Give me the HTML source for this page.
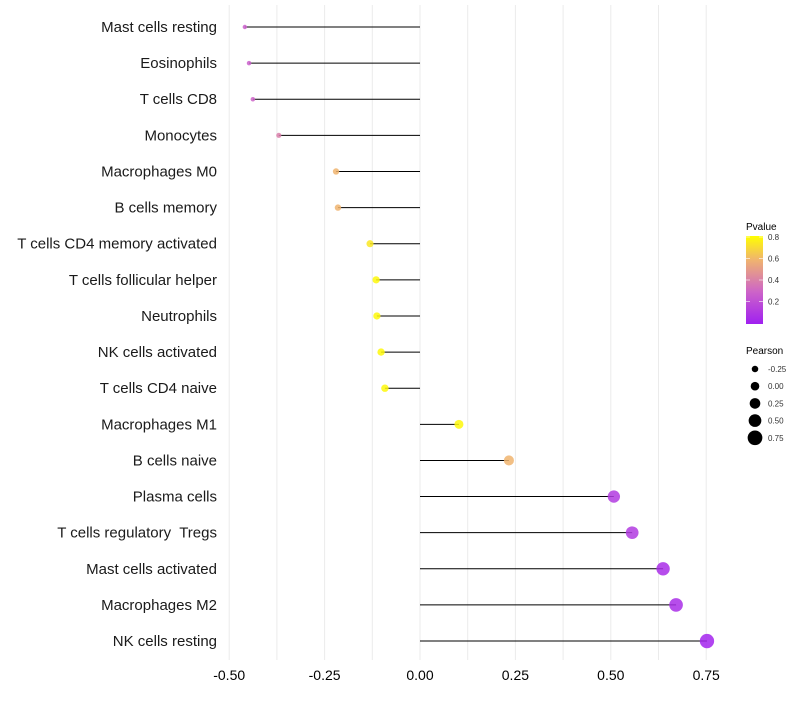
<!DOCTYPE html>
<html><head><meta charset="utf-8"><style>
body{margin:0;background:#fff;font-family:"Liberation Sans",sans-serif}
text{white-space:pre}
</style></head><body>
<svg id="chart" width="800" height="700" xmlns="http://www.w3.org/2000/svg" font-family="Liberation Sans, sans-serif"></svg>
<script>
const categories=["Mast cells resting","Eosinophils","T cells CD8","Monocytes","Macrophages M0","B cells memory","T cells CD4 memory activated","T cells follicular helper","Neutrophils","NK cells activated","T cells CD4 naive","Macrophages M1","B cells naive","Plasma cells","T cells regulatory  Tregs","Mast cells activated","Macrophages M2","NK cells resting"];
const pearson=[-0.459,-0.448,-0.438,-0.370,-0.220,-0.215,-0.131,-0.115,-0.113,-0.102,-0.092,0.102,0.233,0.508,0.556,0.637,0.671,0.752];
const pvalues=[0.28,0.28,0.3,0.4,0.6,0.6,0.75,0.8,0.8,0.8,0.8,0.8,0.6,0.12,0.12,0.06,0.06,0.02];
const xTicks=[-0.5,-0.25,0,0.25,0.5,0.75];
const xTickLabels=["-0.50","-0.25","0.00","0.25","0.50","0.75"];
const pTicks=[0.2,0.4,0.6,0.8];
const sizeTicks=[-0.25,0,0.25,0.5,0.75];
const sizeLabels=["-0.25","0.00","0.25","0.50","0.75"];

const svg=document.getElementById('chart');
const NS="http://www.w3.org/2000/svg";
function mk(t,a,p){const e=document.createElementNS(NS,t);for(const k in a)e.setAttribute(k,a[k]);(p||svg).appendChild(e);return e;}
const xs=v=>420+v*381.6;
const ys=i=>27+i*36.12;
const rs=v=>2.2+(v+0.46)*4.1;
const stops=[[0,[160,32,240]],[0.3,[205,100,200]],[0.6,[240,180,110]],[0.82,[255,255,0]]];
function col(p){p=Math.max(0,Math.min(0.82,p));for(let i=1;i<stops.length;i++){if(p<=stops[i][0]){const a=stops[i-1],b=stops[i],t=(p-a[0])/(b[0]-a[0]);const c=a[1].map((x,j)=>Math.round(x+(b[1][j]-x)*t));return `rgb(${c})`;}}return 'rgb(255,255,0)';}

for(let v=-0.5;v<=0.751;v+=0.125){
  const g=mk('line',{x1:xs(v),x2:xs(v),y1:5,y2:660,stroke:'#ebebeb','stroke-width':1});
  
  
}
xTicks.forEach((v,i)=>{
  const t=mk('text',{x:xs(v),y:680,'text-anchor':'middle','font-size':14,fill:'#000'});
  t.textContent=xTickLabels[i];
  
  
});
categories.forEach((c,i)=>{
  const y=ys(i);
  const t=mk('text',{x:217,y:y+5,'text-anchor':'end','font-size':15,fill:'#1a1a1a'});
  t.setAttributeNS('http://www.w3.org/XML/1998/namespace','xml:space','preserve');
  t.textContent=c;
  
  
  const l=mk('line',{x1:xs(0),x2:xs(pearson[i]),y1:y,y2:y,stroke:'#000','stroke-width':1});
  
  
  const d=mk('circle',{cx:xs(pearson[i]),cy:y,r:rs(pearson[i]),fill:col(pvalues[i]),'fill-opacity':0.85});
  
  
});
const defs=mk('defs',{});
const lg=mk('linearGradient',{id:'pg',x1:0,y1:1,x2:0,y2:0},defs);
stops.forEach(s=>mk('stop',{offset:s[0]/0.82,'stop-color':`rgb(${s[1]})`},lg));
const lt=mk('text',{x:746,y:230,'font-size':10,fill:'#000'});lt.textContent='Pvalue';


const cb=mk('rect',{x:746,y:236,width:17,height:88,fill:'url(#pg)'});


const cy=p=>323-p*107.5;
pTicks.forEach(p=>{
  mk('line',{x1:746,x2:750,y1:cy(p),y2:cy(p),stroke:'#fff','stroke-width':0.6});
  mk('line',{x1:759,x2:763,y1:cy(p),y2:cy(p),stroke:'#fff','stroke-width':0.6});
  const t=mk('text',{x:768,y:cy(p)+3,'font-size':8,fill:'#333'});t.textContent=p.toFixed(1);
  
  
});
const st=mk('text',{x:746,y:354,'font-size':10,fill:'#000'});st.textContent='Pearson';


sizeTicks.forEach((v,i)=>{
  const y=369+i*17.2;
  const c=mk('circle',{cx:755,cy:y,r:rs(v)+0.2,fill:'#000'});
  
  
  const t=mk('text',{x:768,y:y+3,'font-size':8,fill:'#333'});t.textContent=sizeLabels[i];
  
  
});
</script>
</body></html>
